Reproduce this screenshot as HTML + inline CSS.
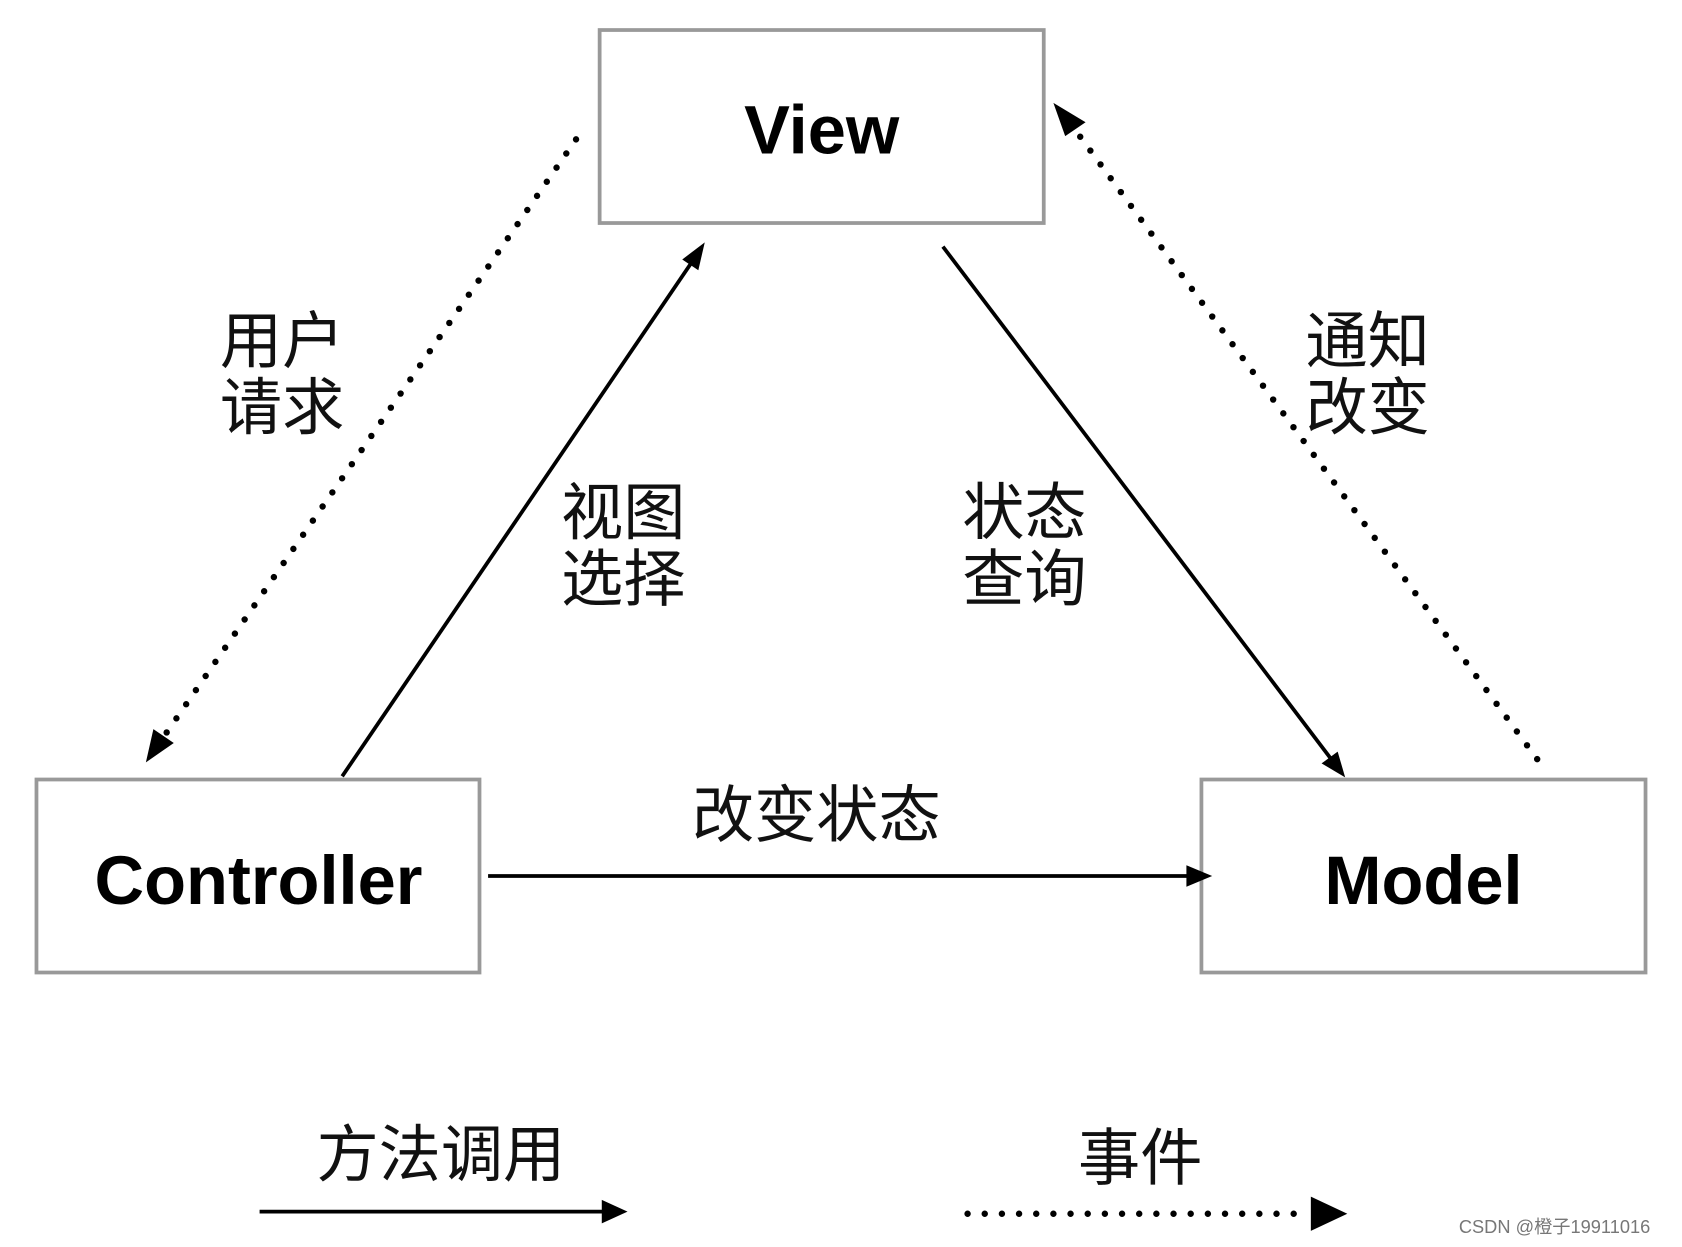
<!DOCTYPE html>
<html><head><meta charset="utf-8"><style>
html,body{margin:0;padding:0;background:#fff;}
svg{display:block;}
.cn{font-family:"Liberation Sans","Noto Sans CJK SC",sans-serif;font-size:58px;fill:#111;}
.b{font-family:"Liberation Sans",sans-serif;font-weight:bold;font-size:64px;fill:#000;}
</style></head><body>
<svg width="1682" height="1247" viewBox="0 0 1568 1163" preserveAspectRatio="none" xmlns="http://www.w3.org/2000/svg">
<defs>
<marker id="a" markerWidth="10" markerHeight="10" refX="9" refY="5" orient="auto" markerUnits="userSpaceOnUse" viewBox="0 0 10 10">
</marker>
</defs>
<g fill="#fff" stroke="#999" stroke-width="3.5">
<rect x="559" y="28" width="414" height="180"/>
<rect x="34" y="727" width="413" height="180"/>
<rect x="1120" y="727" width="414" height="180"/>
</g>
<text class="b" x="766" y="143" text-anchor="middle">View</text>
<text class="b" x="241" y="843" text-anchor="middle">Controller</text>
<text class="b" x="1327" y="843" text-anchor="middle">Model</text>
<g stroke="#000" stroke-width="3.5" fill="none">
<line x1="319" y1="724" x2="648" y2="240"/>
<line x1="879" y1="230" x2="1244" y2="712"/>
<line x1="455" y1="817" x2="1110" y2="817"/>
<line x1="242" y1="1130" x2="565" y2="1130"/>
</g>
<g fill="#000">
<polygon points="657,226 651,252 636,242"/>
<polygon points="1254,725 1232,712 1247,701"/>
<polygon points="1130,817 1106,807 1106,827"/>
<polygon points="585,1130 561,1119 561,1141"/>
<polygon points="1256,1132 1222,1116 1222,1148"/>
<polygon points="136,711 143,680 162,693"/>
<polygon points="982,96 1012,114 993,127"/>
</g>
<g stroke="#000" stroke-width="6" stroke-linecap="round" stroke-dasharray="0 16" fill="none">
<line x1="537" y1="130" x2="152" y2="688"/>
<line x1="1433" y1="708" x2="1000" y2="118"/>
<line x1="902" y1="1132" x2="1210" y2="1132"/>
</g>
<g class="cn">
<text x="205" y="338">用户</text>
<text x="205" y="400">请求</text>
<text x="523" y="498">视图</text>
<text x="523" y="560">选择</text>
<text x="897" y="498">状态</text>
<text x="897" y="560">查询</text>
<text x="1217" y="338">通知</text>
<text x="1217" y="400">改变</text>
<text x="645" y="780">改变状态</text>
<text x="295" y="1097">方法调用</text>
<text x="1005" y="1100">事件</text>
</g>
<text x="1360" y="1150" font-family="Liberation Sans,Noto Sans CJK SC,sans-serif" font-size="17" fill="#777">CSDN @橙子19911016</text>
</svg>
</body></html>
